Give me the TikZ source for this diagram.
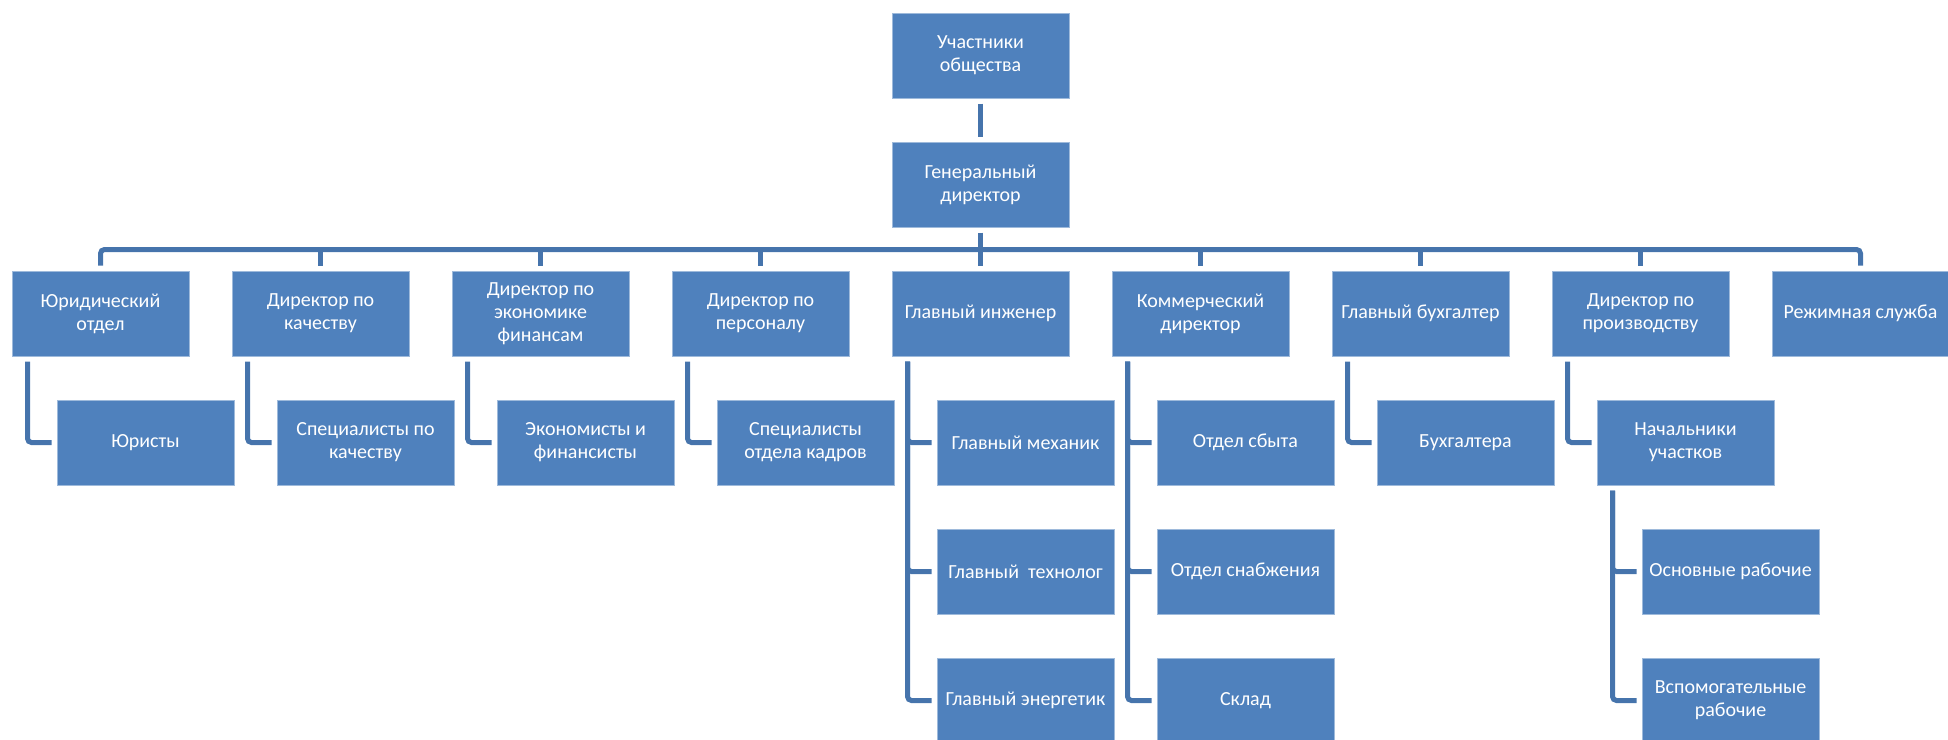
\documentclass[tikz,border=0pt]{standalone}
\usepackage{fontspec}
\setmainfont{Carlito}
\usepackage{tikz}
\usepackage{xcolor}
\usetikzlibrary{positioning}
\definecolor{boxblue}{HTML}{4F81BD}
\definecolor{lineblue}{HTML}{4674AC}

\begin{document}
\begin{tikzpicture}[
  node distance=21.5pt and 21pt,
  box/.style={rectangle, fill=boxblue, draw=white!45!boxblue, line width=0.5pt, text=white, align=center, minimum width=88.5pt, minimum height=42.5pt, inner sep=1pt, font=\fontsize{10}{11.5}\selectfont},
  link/.style={draw=lineblue, line width=2.5pt, rounded corners=2pt, shorten <=2.5pt, shorten >=2.5pt}
]
\useasboundingbox (0,0) rectangle (974pt,-369.5pt);

\node[box] (yurotdel) at (50.25pt,-156.75pt) {Юридический\\отдел};
\node[box, right=of yurotdel] (dirkach) {Директор по\\качеству};
\node[box, right=of dirkach] (direk) {Директор по\\экономике\\финансам};
\node[box, right=of direk] (dirpers) {Директор по\\персоналу};
\node[box, right=of dirpers] (glinzh) {Главный инженер};
\node[box, right=of glinzh] (kommdir) {Коммерческий\\директор};
\node[box, right=of kommdir] (glbuh) {Главный бухгалтер};
\node[box, right=of glbuh] (dirproizv) {Директор по\\производству};
\node[box, right=of dirproizv] (rezhim) {Режимная служба};

\node[box, above=of glinzh] (gendir) {Генеральный\\директор};
\node[box, above=of gendir] (uchastniki) {Участники\\общества};
\coordinate[below=11pt of gendir.south] (bus);

\node[box, below=of yurotdel.south west, anchor=north west, xshift=22.5pt] (yuristy) {Юристы};
\node[box, below=of dirkach.south west, anchor=north west, xshift=22.5pt] (speckach) {Специалисты по\\качеству};
\node[box, below=of direk.south west, anchor=north west, xshift=22.5pt] (ekonom) {Экономисты и\\финансисты};
\node[box, below=of dirpers.south west, anchor=north west, xshift=22.5pt] (speckadr) {Специалисты\\отдела кадров};
\node[box, below=of glinzh.south west, anchor=north west, xshift=22.5pt] (mehanik) {Главный механик};
\node[box, below=of mehanik] (tehnolog) {Главный~ технолог};
\node[box, below=of tehnolog] (energetik) {Главный энергетик};
\node[box, below=of kommdir.south west, anchor=north west, xshift=22.5pt] (sbyt) {Отдел сбыта};
\node[box, below=of sbyt] (snab) {Отдел снабжения};
\node[box, below=of snab] (sklad) {Склад};
\node[box, below=of glbuh.south west, anchor=north west, xshift=22.5pt] (buhgaltera) {Бухгалтера};
\node[box, below=of dirproizv.south west, anchor=north west, xshift=22.5pt] (nachuch) {Начальники\\участков};
\node[box, below=of nachuch.south west, anchor=north west, xshift=22.5pt] (osnrab) {Основные рабочие};
\node[box, below=of osnrab] (vsprab) {Вспомогательные\\рабочие};

\draw[link] (uchastniki) -- (gendir);
\draw[link] (gendir) -- (glinzh);
\draw[link] (yurotdel) |- (bus) -| (rezhim);
\foreach \n in {dirkach,direk,dirpers,kommdir,glbuh,dirproizv}
  \draw[link, shorten <=0pt] (bus -| \n) -- (\n);

\draw[link] ([xshift=8pt]yurotdel.south west) |- (yuristy);
\draw[link] ([xshift=8pt]dirkach.south west) |- (speckach);
\draw[link] ([xshift=8pt]direk.south west) |- (ekonom);
\draw[link] ([xshift=8pt]dirpers.south west) |- (speckadr);
\foreach \c in {mehanik,tehnolog,energetik}
  \draw[link] ([xshift=8pt]glinzh.south west) |- (\c);
\foreach \c in {sbyt,snab,sklad}
  \draw[link] ([xshift=8pt]kommdir.south west) |- (\c);
\draw[link] ([xshift=8pt]glbuh.south west) |- (buhgaltera);
\draw[link] ([xshift=8pt]dirproizv.south west) |- (nachuch);
\foreach \c in {osnrab,vsprab}
  \draw[link] ([xshift=8pt]nachuch.south west) |- (\c);
\end{tikzpicture}
\end{document}
